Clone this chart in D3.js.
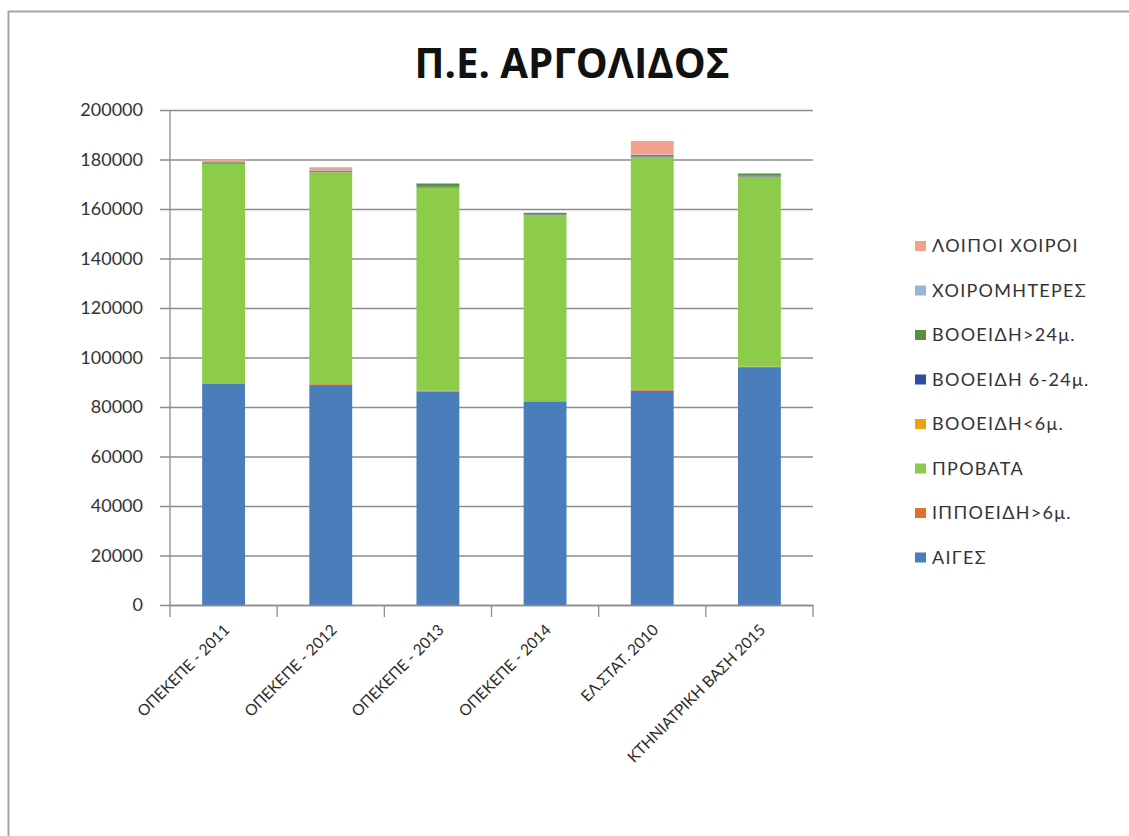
<!DOCTYPE html>
<html>
<head>
<meta charset="utf-8">
<script src="https://cdn.jsdelivr.net/npm/d3@7"></script>
<style>
  html, body { margin: 0; padding: 0; background: #fff; }
  svg { display: block; }
</style>
</head>
<body>
<svg id="chart" width="1129" height="836"></svg>
<script>
// ---- data ----
const title = "Π.Ε. ΑΡΓΟΛΙΔΟΣ";
const categories = ["ΟΠΕΚΕΠΕ - 2011", "ΟΠΕΚΕΠΕ - 2012", "ΟΠΕΚΕΠΕ - 2013", "ΟΠΕΚΕΠΕ - 2014", "ΕΛ.ΣΤΑΤ. 2010", "ΚΤΗΝΙΑΤΡΙΚΗ ΒΑΣΗ 2015"];
const seriesNames = ["ΑΙΓΕΣ", "ΙΠΠΟΕΙΔΗ>6μ.", "ΠΡΟΒΑΤΑ", "ΒΟΟΕΙΔΗ<6μ.", "ΒΟΟΕΙΔΗ 6-24μ.", "ΒΟΟΕΙΔΗ>24μ.", "ΧΟΙΡΟΜΗΤΕΡΕΣ", "ΛΟΙΠΟΙ ΧΟΙΡΟΙ"];
const aiges        = [89300, 88900, 86300, 82100, 86600, 96100];
const ippoeidi     = [300, 300, 300, 300, 300, 200];
const provata      = [88600, 85600, 82000, 75200, 94200, 76750];
const vooeidiLt6   = [100, 100, 100, 50, 100, 100];
const vooeidi6_24  = [200, 100, 300, 200, 200, 300];
const vooeidiGt24  = [400, 500, 1300, 600, 400, 900];
const choiromiteres= [100, 200, 50, 20, 200, 30];
const loipoiChoiroi= [1000, 1150, 50, 30, 5500, 20];
const yTicks = [0, 20000, 40000, 60000, 80000, 100000, 120000, 140000, 160000, 180000, 200000];
const colors = ["#4A7EBB", "#E0702C", "#8DCB4B", "#E8A317", "#2E4DA7", "#5B8E3F", "#98B4D8", "#F2A28C"];

const seriesValues = [aiges, ippoeidi, provata, vooeidiLt6, vooeidi6_24, vooeidiGt24, choiromiteres, loipoiChoiroi];
const rows = categories.map((c, i) => {
  const r = { cat: c };
  seriesNames.forEach((s, k) => r[s] = seriesValues[k][i]);
  return r;
});

const svg = d3.select("#chart");
const font = "Lato, 'Open Sans', 'DejaVu Sans', sans-serif";

// outer frame (only top & left visible)
svg.append("rect").attr("x", 8.5).attr("y", 11.5).attr("width", 1140).attr("height", 840)
  .attr("fill", "none").attr("stroke", "#a6a6a6").attr("stroke-width", 2);

const plot = { left: 170, right: 813, top: 110, bottom: 605 };

const x = d3.scaleBand().domain(categories).range([plot.left, plot.right]).paddingInner(0.6).paddingOuter(0.3);
const y = d3.scaleLinear().domain([0, 200000]).range([plot.bottom, plot.top]);

// gridlines + y ticks
const yAxis = d3.axisLeft(y).tickValues(yTicks).tickFormat(d3.format("d"))
  .tickSize(-(plot.right - plot.left) - 10).tickPadding(18);
const gy = svg.append("g").attr("transform", `translate(${plot.left},0)`).call(yAxis);
gy.select(".domain").remove();
gy.selectAll(".tick line").attr("x1", -10).attr("x2", plot.right - plot.left)
  .attr("stroke", "#8c8c8c").attr("stroke-width", 1.3);
gy.selectAll(".tick text").attr("font-family", font).attr("font-size", 18).attr("fill", "#333").attr("x", -27);

// stacked bars
const stack = d3.stack().keys(seriesNames)(rows);
svg.append("g").selectAll("g").data(stack).join("g")
  .attr("fill", (d, i) => colors[i])
  .selectAll("rect").data(d => d).join("rect")
  .attr("x", d => x(d.data.cat))
  .attr("width", x.bandwidth())
  .attr("y", d => y(d[1]))
  .attr("height", d => Math.max(0, y(d[0]) - y(d[1])));

// axes lines
svg.append("line").attr("x1", plot.left).attr("x2", plot.left).attr("y1", plot.top).attr("y2", plot.bottom)
  .attr("stroke", "#8c8c8c").attr("stroke-width", 1.3);
const xAxis = d3.axisBottom(x).tickSize(0).tickFormat("");
const gx = svg.append("g").attr("transform", `translate(0,${plot.bottom})`).call(xAxis);
gx.select(".domain").attr("stroke", "#8c8c8c").attr("stroke-width", 1.3);
// category boundary ticks
const bounds = d3.range(categories.length + 1).map(i => plot.left + i * (plot.right - plot.left) / categories.length);
gx.selectAll(".bt").data(bounds).join("line").attr("class", "bt")
  .attr("x1", d => d).attr("x2", d => d).attr("y1", 0).attr("y2", 12)
  .attr("stroke", "#8c8c8c").attr("stroke-width", 1.3);

// x labels rotated
svg.append("g").selectAll("text").data(categories).join("text")
  .attr("transform", d => `translate(${x(d) + x.bandwidth() / 2 + 7},${plot.bottom + 26}) rotate(-45)`)
  .attr("text-anchor", "end")
  .attr("font-family", font).attr("font-size", 15.5).attr("fill", "#2b2b2b")
  .text(d => d);

// title
svg.append("text").attr("x", 572).attr("y", 78).attr("text-anchor", "middle")
  .attr("font-family", "'Open Sans', Lato, sans-serif").attr("font-weight", "bold")
  .attr("font-size", 42).attr("fill", "#111")
  .attr("textLength", 315).attr("lengthAdjust", "spacingAndGlyphs")
  .text(title);

// legend (reverse order)
const legendItems = seriesNames.map((s, i) => ({ name: s, color: colors[i] })).reverse();
const lg = svg.append("g").attr("transform", "translate(915,246)");
const li = lg.selectAll("g").data(legendItems).join("g")
  .attr("transform", (d, i) => `translate(0,${i * 44.5})`);
li.append("rect").attr("x", 0).attr("y", -5).attr("width", 11).attr("height", 10).attr("fill", d => d.color);
li.append("text").attr("x", 17).attr("dy", "0.35em")
  .attr("font-family", font).attr("font-size", 18).attr("letter-spacing", 1.3).attr("fill", "#333")
  .text(d => d.name);
</script>
</body>
</html>
